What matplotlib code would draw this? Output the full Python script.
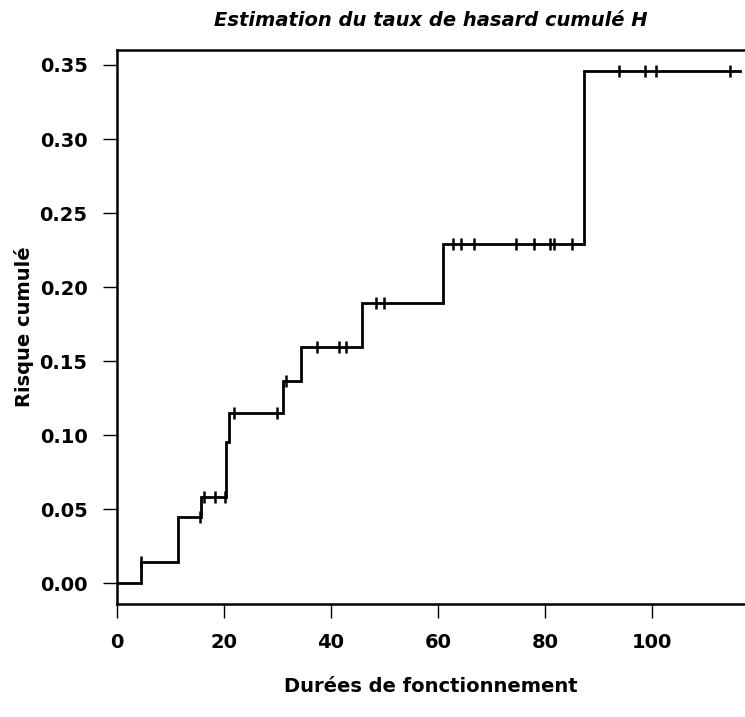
import numpy as np
import matplotlib
matplotlib.use("Agg")
import matplotlib.pyplot as plt

plt.rcParams['font.family'] = ['DejaVu Sans']

# --- Data:

# event times and cumulative hazard after each event
event_times = [0.0, 4.6, 11.5, 15.8, 20.4, 20.9, 31.1, 34.4, 45.9, 61.0, 87.4]
cum_hazard = [0.0, 0.0142, 0.0446, 0.0585, 0.0956, 0.1148, 0.1368, 0.1597, 0.189, 0.2288, 0.3458]
last_time = 116.5

# censored times (the little "+" marks)
censor_times = [4.6, 15.6, 16.4, 18.4, 20.3, 21.9, 29.9, 31.6, 37.4, 41.6, 42.9,
                48.4, 50.0, 62.9, 64.3, 66.7, 74.6, 77.9, 80.9, 81.8, 85.0,
                93.9, 98.7, 100.8, 114.6]

xticks = [0, 20, 40, 60, 80, 100]
yticks = [0.00, 0.05, 0.10, 0.15, 0.20, 0.25, 0.30, 0.35]

# --- Plotting:

fig = plt.figure(figsize=(7.45, 7.17), dpi=100)
ax = fig.add_axes([116.7 / 745, 113 / 717, 1 - 116.7 / 745, 554 / 717])

xs = np.array(event_times + [last_time])
ys = np.array(cum_hazard + [cum_hazard[-1]])
ax.step(xs, ys, where='post', color='black', lw=2.0, solid_joinstyle='miter')

idx = np.searchsorted(event_times, censor_times, side='right') - 1
ax.plot(censor_times, np.array(cum_hazard)[idx], ls='none', marker='|',
        markersize=9, mew=1.8, color='black')

ax.set_xlim(0, 117.4)
ax.set_ylim(-0.0139, 0.3601)
ax.set_xticks(xticks)
ax.set_yticks(yticks)
ax.set_xticklabels([str(v) for v in xticks])
ax.set_yticklabels([f'{v:.2f}' for v in yticks])

for s in ['left', 'bottom', 'top']:
    ax.spines[s].set_linewidth(1.8)
ax.spines['right'].set_visible(False)

ax.tick_params(axis='both', length=10, width=1.0, labelsize=14)
ax.tick_params(axis='x', pad=11)
ax.tick_params(axis='y', pad=11)
for lab in ax.get_xticklabels() + ax.get_yticklabels():
    lab.set_fontweight('bold')

ax.set_title('Estimation du taux de hasard cumulé H', fontsize=14,
             fontweight='bold', style='italic', pad=17)
ax.set_xlabel('Durées de fonctionnement', fontsize=14, fontweight='bold', labelpad=18)
ax.set_ylabel('Risque cumulé', fontsize=14, fontweight='bold', labelpad=4)

fig.savefig('out.png', dpi=100)
